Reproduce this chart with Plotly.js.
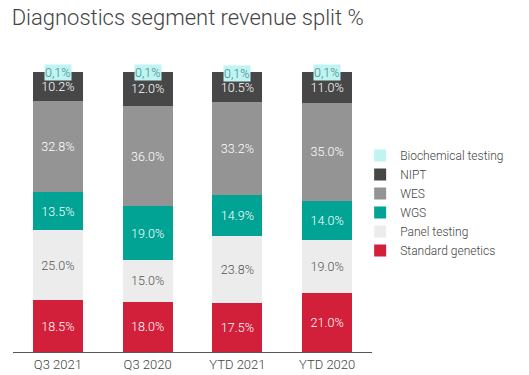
<!DOCTYPE html>
<html>
<head>
<meta charset="utf-8">
<script src="https://cdn.plot.ly/plotly-3.0.1.min.js"></script>
<style>html,body{margin:0;padding:0;background:#fff;}#chart{width:529px;height:375px;}</style>
</head>
<body>
<div id="chart"></div>
<script>
const categories = ["Q3 2021", "Q3 2020", "YTD 2021", "YTD 2020"];
const standardGenetics = [18.5, 18.0, 17.5, 21.0];
const panelTesting = [25.0, 15.0, 23.8, 19.0];
const wgs = [13.5, 19.0, 14.9, 14.0];
const wes = [32.8, 36.0, 33.2, 35.0];
const nipt = [10.2, 12.0, 10.5, 11.0];
const biochemical = [0.1, 0.1, 0.1, 0.1];
const biochemicalLabels = ["0,1%", "0,1%", "0,1%", "0,1%"];

const fmt = v => v.map(x => x.toFixed(1) + "%");
const font = "Roboto, 'Open Sans', sans-serif";

function bar(name, y, color, textColor) {
  return {
    type: "bar", name: name, x: categories, y: y,
    marker: {color: color, line: {width: 0}},
    text: fmt(y), textposition: "inside", insidetextanchor: "middle",
    textangle: 0, constraintext: "none",
    insidetextfont: {family: font, size: 12.5, color: textColor, weight: 300},
    hoverinfo: "skip"
  };
}

const traces = [
  bar("Standard genetics", standardGenetics, "#d2203a", "#ffffff"),
  bar("Panel testing", panelTesting, "#ececec", "#555555"),
  bar("WGS", wgs, "#00a394", "#ffffff"),
  bar("WES", wes, "#949494", "#ffffff"),
  bar("NIPT", nipt, "#474747", "#ffffff"),
  Object.assign(bar("Biochemical testing", biochemical, "#bff4f3", "#3e8585"), {textposition: "none"})
];

const totals = categories.map((c, i) =>
  standardGenetics[i] + panelTesting[i] + wgs[i] + wes[i] + nipt[i] + biochemical[i]);

const annotations = categories.map((c, i) => ({
  x: c, y: totals[i], xref: "x", yref: "y",
  text: biochemicalLabels[i], showarrow: false,
  yanchor: "middle", yshift: -1,
  bgcolor: "#bff4f3", borderpad: 0,
  font: {family: font, size: 12.5, color: "#3e8585", weight: 300}
}));

const layout = {
  width: 529, height: 375,
  margin: {l: 13, r: 157, t: 60, b: 23},
  paper_bgcolor: "#ffffff", plot_bgcolor: "#ffffff",
  barmode: "stack", bargap: 0.445,
  showlegend: true,
  title: {text: "Diagnostics segment revenue split %", x: 0.022, xanchor: "left",
          y: 0.955, yanchor: "middle",
          font: {family: font, size: 22, color: "#444444", weight: 300}},
  xaxis: {type: "category", showline: true, linecolor: "#555555", linewidth: 1,
          ticks: "", showgrid: false, zeroline: false,
          tickfont: {family: font, size: 13, color: "#444444", weight: 300}},
  yaxis: {range: [0, 104.3], visible: false, showgrid: false, zeroline: false},
  legend: {x: 0.967, xanchor: "left", y: 0.51, yanchor: "middle",
           traceorder: "reversed", bgcolor: "rgba(0,0,0,0)",
           font: {family: font, size: 12, color: "#444444", weight: 300}},
  annotations: annotations,
  hovermode: false
};

Plotly.newPlot("chart", traces, layout, {displayModeBar: false, staticPlot: true});
</script>
</body>
</html>
